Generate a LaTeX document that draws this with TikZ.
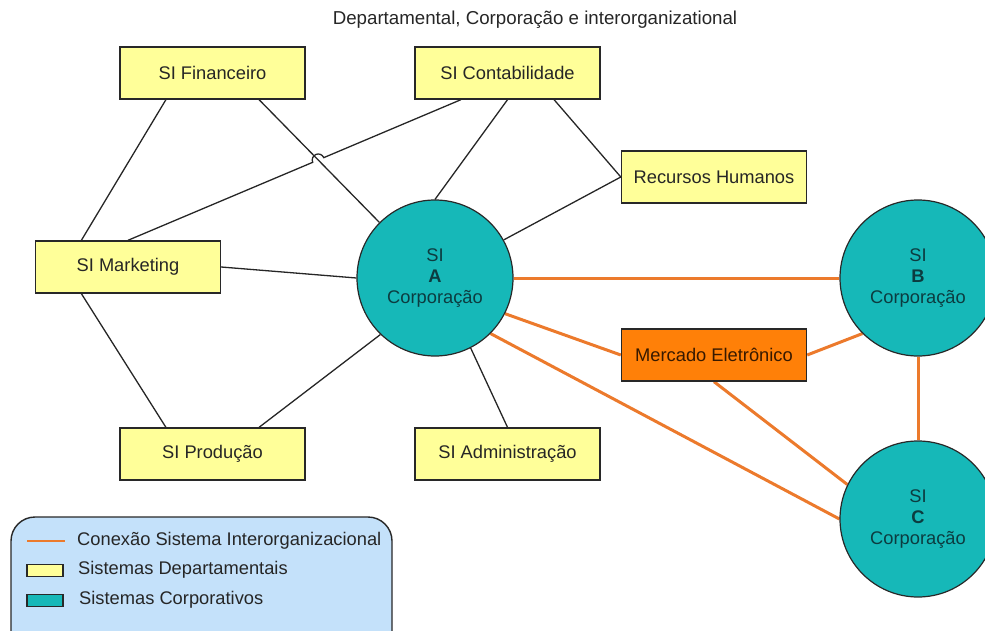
\documentclass[tikz,border=0pt]{standalone}
\usepackage{fontspec}
\setmainfont{Liberation Sans}
\usetikzlibrary{calc,backgrounds}
\definecolor{deptfill}{RGB}{255,255,153}
\definecolor{corpfill}{RGB}{22,184,184}
\definecolor{mktfill}{RGB}{255,128,8}
\definecolor{mkttext}{RGB}{55,25,0}
\definecolor{ioline}{RGB}{236,122,44}
\definecolor{legfill}{RGB}{196,225,250}
\definecolor{edge}{RGB}{40,40,40}
\definecolor{corptext}{RGB}{12,60,64}
\begin{document}
\begin{tikzpicture}[x=1pt,y=-1pt,
  font=\fontsize{18.3}{21}\selectfont,
  dept/.style={draw=edge,line width=1.4pt,fill=deptfill,minimum width=185pt,
    minimum height=52pt,inner sep=0pt,text=black!85},
  market/.style={dept,fill=mktfill,text=mkttext},
  corp/.style={circle,draw=edge,line width=1.2pt,fill=corpfill,minimum size=156pt,
    inner sep=0pt,align=center,text=corptext},
  link/.style={draw=black!85,line width=1.3pt},
  iolink/.style={draw=ioline,line width=3pt},
  legtext/.style={anchor=west,inner sep=0pt,text=black!85},
  swatch/.style={draw=edge,line width=1.2pt,minimum width=36pt,minimum height=12pt,inner sep=0pt},
]
\path[use as bounding box] (0,0) rectangle (985,631);
\clip (0,0) rectangle (985,631);

% title
\node[text=black!85,font=\fontsize{18.7}{21}\selectfont] (title) at (535,20)
  {Departamental, Corporação e interorganizational};

% departmental systems
\node[dept] (fin)  at (212.5,73)  {SI Financeiro};
\node[dept] (cont) at (507.5,73)  {SI Contabilidade};
\node[dept] (rh)   at (714,177)   {Recursos Humanos};
\node[dept] (mk)   at (128,267)   {SI Marketing};
\node[dept] (prod) at (212.5,454) {SI Produção};
\node[dept] (adm)  at (507.5,454) {SI Administração};
\node[market] (merc) at (714,355) {Mercado Eletrônico};

% corporate systems
\node[corp] (A) at (435,278) {SI\\\textbf{A}\\Corporação};
\node[corp] (B) at (918,278) {SI\\\textbf{B}\\Corporação};
\node[corp] (C) at (918,519) {SI\\\textbf{C}\\Corporação};

% connection points along box edges
\coordinate (f1) at ($(fin.south west)!0.25!(fin.south east)$);
\coordinate (f2) at ($(fin.south west)!0.75!(fin.south east)$);
\coordinate (c1) at ($(cont.south west)!0.25!(cont.south east)$);
\coordinate (c3) at ($(cont.south west)!0.75!(cont.south east)$);
\coordinate (m1) at ($(mk.north west)!0.25!(mk.north east)$);
\coordinate (m3) at ($(mk.south west)!0.25!(mk.south east)$);
\coordinate (p1) at ($(prod.north west)!0.25!(prod.north east)$);
\coordinate (p3) at ($(prod.north west)!0.75!(prod.north east)$);
\coordinate (a1) at (A.135);
\coordinate (X) at (intersection of f2--a1 and c1--mk.north);

\begin{scope}[on background layer]
  % departmental links
  \draw[link] (f1) -- (m1);
  \draw[link] (f2) -- (a1);
  \draw[link] let \p1=($(c1)-(X)$), \n1={atan2(\y1,\x1)} in
    (c1) -- ($(X)!6pt!(c1)$) arc[start angle=\n1, end angle=\n1+180, radius=6pt] -- (mk.north);
  \draw[link] (cont.south) -- (A.north);
  \draw[link] (c3) -- (rh.west);
  \draw[link] (rh.west) -- (A.29);
  \draw[link] (mk.east) -- (A.west);
  \draw[link] (m3) -- (p1);
  \draw[link] (p3) -- (A.226);
  \draw[link] (adm.north) -- (A.-63);
  % interorganizational links
  \draw[iolink] (A.east) -- (B.west);
  \draw[iolink] (A.-27) -- (merc.west);
  \draw[iolink] (A.-45) -- (C.west);
  \draw[iolink] (merc.east) -- (B.225);
  \draw[iolink] (merc.south) -- (C.154);
  \draw[iolink] (B.south) -- (C.north);
\end{scope}

% legend
\draw[draw=edge,line width=1.4pt,fill=legfill,rounded corners=24pt] (11,517) rectangle (392,660);
\coordinate (l1a) at (27,541);
\coordinate (l1b) at (65,541);
\draw[iolink,line width=2.6pt] (l1a) -- (l1b);
\node[legtext] (l1t) at (77,541) {Conexão Sistema Interorganizacional};
\node[swatch,fill=deptfill] (l2s) at (45,570.5) {};
\node[legtext] (l2t) at (78,570) {Sistemas Departamentais};
\node[swatch,fill=corpfill] (l3s) at (45,600.5) {};
\node[legtext] (l3t) at (79,600) {Sistemas Corporativos};
\end{tikzpicture}
\end{document}
